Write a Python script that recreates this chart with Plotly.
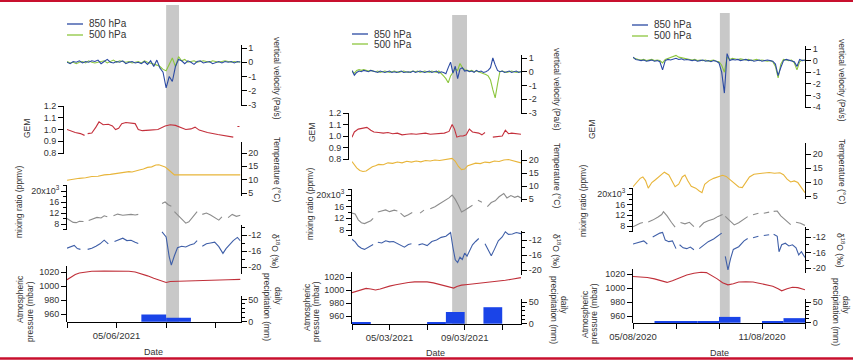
import pandas as pd
import plotly.graph_objects as go

W, H = 853, 360
FONT = "Arial, 'Liberation Sans', sans-serif"

# ======================= DATA =======================
# ---- Panel 1 : June 2021 ----
P1_START, P1_END = "2021-06-03", "2021-06-10"
P1_BAND = ["2021-06-07 00:00", "2021-06-07 12:30"]
p1_vel_hours = list(range(0, 169, 3))
p1_v850 = [0.0, -0.1, 0.05, 0.0, 0.1, -0.05, 0.05, 0.0, 0.1, 0.05,
           0.15, -0.1, 0.05, 0.2, 0.0, -0.05, 0.05, 0.0, 0.1, -0.1,
           0.0, 0.05, -0.05, 0.0, -0.1, 0.05, -0.15, 0.1, -0.3, 0.15,
           -0.4, -0.7, -1.8, -1.0, -1.35, -0.3, 0.2, 0.1, -0.1, 0.1,
           0.0, -0.15, 0.05, 0.1, -0.05, 0.0, 0.05, -0.1, 0.0, 0.05,
           -0.05, 0.05, 0.0, 0.05, -0.05, 0.05, 0.0]
p1_v500 = [0.05, -0.05, 0.0, -0.1, 0.0, 0.05, -0.05, 0.1, 0.0, -0.05,
           0.0, 0.05, 0.1, -0.05, 0.05, 0.15, 0.0, 0.1, 0.05, 0.0,
           0.05, -0.05, 0.0, 0.05, -0.05, 0.1, 0.0, -0.05, -0.1, -0.2,
           -0.3, -0.5, -0.6, -0.2, 0.3, -0.3, 0.4, 0.1, 0.2, 0.0,
           0.05, 0.1, 0.0, 0.05, 0.1, 0.05, 0.0, 0.1, 0.05, 0.0,
           0.05, 0.1, 0.05, 0.0, 0.05, 0.0, 0.05]
p1_gem_hours = [0, 3, 8, 13, 17, 18, 20, 24, 28, 31, 35, 40, 44, 47, 50, 53, 57, 62, 66, 69,
                73, 80, 88, 95, 100, 105, 110, 115, 120, 124, 128, 136, 146, 155, 161, 163, 165, 167]
p1_gem = [1.0, 0.99, 0.975, 0.965, 0.95, None, 0.965, 0.97, 1.02, 1.065,
          1.04, 1.045, 1.03, 1.0, 1.01, 1.05, 1.06, 1.055, 1.05, 1.0,
          0.99, 0.995, 1.0, 1.03, 1.04, 1.035, 1.02, 1.0, 1.005, 1.02,
          0.995, 0.975, 0.957, 0.945, 0.935, None, 1.025, 1.025]
p1_temp_hours = [0, 6, 12, 18, 24, 30, 36, 42, 48, 54, 60, 63, 66, 70, 74, 78, 82, 86, 89, 92,
                 95, 98, 101, 104, 110, 120, 135, 150, 168]
p1_temp = [9.8, 10.2, 10.5, 10.7, 11.2, 11.3, 11.8, 12.0, 12.4, 12.6,
           13.0, 12.9, 13.3, 13.6, 14.0, 14.6, 14.8, 15.5, 15.6, 15.3,
           14.8, 13.8, 12.6, 11.8, 11.8, 11.7, 11.8, 11.8, 11.8]
p1_mix_hours = [0, 3, 6, 9, 12, 16, 18, 21, 25, 29, 33, 36, 39, 42, 45, 49, 54, 58, 62, 66,
                69, 70, 92, 95, 98, 101, 102, 104, 108, 112, 115, 118, 122, 126, 128, 131, 135, 139, 143, 147,
                150, 152, 156, 160, 164, 168]
p1_mix = [10000, 9400, 8600, 8500, 9000, 8900, None, 9300, 10000, 10400,
          10200, 11000, 10600, None, 11000, 11600, 11200, 11400, 11500, 11300,
          11500, None, 15500, 16000, 15000, 14500, None, 12500, 11000, 9500,
          8300, 8800, 10500, 12500, None, 11500, 12000, 11300, 10500, 9400,
          10600, None, 10300, 11500, 10800, 11200]
p1_d18_hours = [0, 4, 7, 10, 13, 14, 20, 24, 28, 32, 36, 40, 42, 46, 50, 54, 58, 62, 66, 69,
                70, 92, 96, 99, 101, 104, 107, 111, 115, 119, 123, 126, 128, 131, 135, 139, 143, 147, 151, 154,
                157, 161, 165, 168]
p1_d18 = [-15.3, -14.8, -14.6, -15.4, -15.6, None, -15.6, -15.3, -14.8, -14.2,
          -13.3, -14.2, None, -13.6, -13.2, -12.8, -13.4, -13.3, -13.8, -14.1,
          None, -11.2, -12.5, -17.5, -19.5, -17.2, -15.2, -14.8, -15.0, -14.5,
          -14.2, -13.4, None, -14.8, -14.2, -14.0, -13.8, -14.9, -16.6, -15.4,
          -14.5, -13.4, -12.6, -13.5]
p1_pres_hours = [0, 4, 8, 12, 18, 24, 36, 48, 60, 66, 72, 78, 84, 90, 96, 100, 108, 120, 132, 144, 156, 168]
p1_pres = [1009, 1013, 1016.5, 1018.5, 1020, 1021, 1021.5, 1021.5, 1021, 1020, 1017.5,
           1014.5, 1011, 1008, 1005, 1006.5, 1007, 1007.5, 1008, 1008.5, 1009, 1009.5]
p1_prec_days = ["2021-06-06", "2021-06-07"]
p1_prec = [16, 9]

# ---- Panel 2 : March 2021 ----
P2_START, P2_END = "2021-03-03", "2021-03-12"
P2_BAND = ["2021-03-08 08:00", "2021-03-09 03:00"]
p2_vel_hours = list(range(0, 217, 3))
p2_v850 = [0.1, -0.25, -0.05, 0.05, 0.0, 0.1, 0.05, 0.0, 0.1, 0.05,
           0.0, -0.05, 0.05, 0.0, -0.05, 0.0, 0.05, -0.05, 0.0, -0.05,
           0.0, 0.05, -0.05, 0.0, 0.0, -0.05, 0.05, -0.05, 0.0, 0.05,
           0.0, -0.05, 0.0, 0.05, -0.05, 0.0, 0.05, -0.1, 0.0, -0.05,
           -0.15, 0.3, 0.7, -0.1, 0.4, -0.5, 0.2, 0.3, 0.05, 0.1,
           0.0, 0.05, -0.05, 0.1, 0.0, 0.05, -0.05, 0.0, 0.1, 0.3,
           1.0, 0.5, 0.1, 0.0, 0.05, -0.05, 0.0, 0.05, -0.05, 0.0,
           0.05, -0.05, 0.0]
p2_v500 = [0.05, -0.1, 0.1, 0.15, 0.1, 0.15, 0.1, 0.05, 0.1, 0.05,
           0.0, 0.05, -0.05, 0.0, 0.05, 0.0, -0.05, 0.0, 0.05, 0.0,
           -0.05, 0.0, 0.05, 0.0, -0.05, 0.0, 0.05, 0.0, 0.05, -0.05,
           0.0, 0.05, 0.0, -0.05, 0.05, 0.0, -0.05, 0.05, -0.1, -0.3,
           -0.5, -0.8, -0.3, 0.0, 0.2, 0.1, 0.6, 0.3, 0.15, 0.1,
           0.05, 0.1, 0.0, 0.05, 0.0, -0.05, -0.1, -0.2, -0.3, -0.6,
           -1.3, -1.9, -0.9, 0.0, 0.05, 0.0, -0.05, 0.0, 0.05, 0.0,
           -0.05, 0.0, 0.0]
p2_gem_hours = [0, 3, 8, 14, 19, 24, 28, 34, 40, 46, 52, 58, 64, 70, 76, 82, 88, 94, 100, 106,
                112, 118, 124, 128, 131, 134, 138, 142, 146, 150, 154, 158, 162, 166, 170, 171, 180, 186, 192, 196,
                200, 204, 208, 212, 216]
p2_gem = [0.99, 1.035, 1.06, 1.065, 1.075, 1.05, 1.035, 1.03, 1.025, 1.03,
          1.02, 1.025, 1.01, 1.015, 1.02, 1.015, 1.02, 1.025, 1.015, 1.02,
          1.02, 1.025, 1.04, 1.1, 1.06, 0.99, 1.0, 1.0, 1.01, 1.06,
          1.035, 1.03, 1.025, 1.01, 1.03, None, 0.99, 0.995, 1.0, 1.05,
          1.02, 1.025, 1.02, 1.02, 1.015]
p2_temp_hours = [0, 3, 6, 10, 14, 18, 22, 26, 30, 34, 40, 46, 52, 58, 64, 70, 76, 82, 88, 94,
                 100, 106, 112, 118, 124, 128, 132, 136, 140, 144, 148, 152, 158, 164, 170, 176, 182, 188, 194, 200,
                 206, 212, 216]
p2_temp = [19.4, 18.0, 17.0, 16.0, 15.6, 15.8, 16.6, 17.4, 17.8, 18.3,
           18.2, 18.9, 18.7, 19.2, 18.9, 19.5, 19.2, 19.6, 19.3, 19.8,
           19.6, 20.0, 19.8, 20.2, 20.4, 20.6, 19.5, 17.5, 16.3, 16.5,
           17.8, 18.3, 18.8, 18.6, 19.2, 19.0, 19.6, 19.4, 20.0, 20.2,
           19.8, 19.2, 18.9]
p2_mix_hours = [0, 4, 8, 12, 16, 20, 24, 27, 28, 33, 38, 43, 48, 54, 58, 60, 62, 67, 72, 77,
                79, 87, 92, 94, 100, 106, 112, 118, 124, 128, 132, 136, 140, 144, 150, 154, 156, 161, 166, 168,
                173, 178, 183, 188, 194, 198, 203, 208, 212, 216]
p2_mix = [13800, 13500, 11500, 10500, 10200, 10600, 11200, 12000, None, 14200,
          14600, 14900, 14300, 14800, 14500, None, 13800, 12600, 13200, 14000,
          None, 13800, 14800, None, 15300, 16000, 17000, 18000, 19000, 20000,
          18500, 16500, 14200, 14800, 15800, 16500, None, 18200, 17500, None,
          16000, 17400, 18000, 19400, 20500, 19000, 19800, 19200, 19600, 19000]
p2_d18_hours = [0, 4, 8, 12, 16, 20, 24, 27, 28, 33, 38, 43, 48, 53, 58, 62, 67, 72, 76, 78,
                85, 90, 96, 102, 108, 114, 120, 126, 129, 132, 135, 138, 141, 144, 147, 150, 154, 158, 162, 164,
                170, 175, 178, 182, 187, 192, 196, 200, 205, 210, 216]
p2_d18 = [-11.8, -12.5, -13.6, -14.2, -14.5, -14.0, -13.6, -13.2, None, -12.6,
          -12.8, -12.2, -12.5, -12.4, -13.0, -13.3, -13.9, -13.2, -13.0, None,
          -13.3, -13.0, -13.5, -12.4, -12.0, -11.3, -11.0, -10.0, -14.0, -17.3,
          -18.0, -16.6, -17.2, -15.5, -16.3, -14.8, -13.3, -12.4, -11.6, None,
          -13.0, -15.0, -16.2, -14.5, -12.2, -11.2, -9.8, -10.5, -10.4, -10.0,
          -10.3]
p2_pres_hours = [0, 6, 12, 18, 24, 30, 36, 42, 48, 56, 64, 72, 80, 88, 96, 104, 112, 120, 126, 130,
                 134, 140, 148, 156, 164, 172, 180, 188, 196, 204, 210, 216]
p2_pres = [996, 998.5, 1001, 1002.5, 1001.5, 1000, 1001.5, 1004, 1006, 1008,
           1010, 1011.5, 1012.5, 1013, 1012.5, 1011, 1008.5, 1005.5, 1003.5, 1003,
           1005.5, 1007.5, 1008.5, 1009.5, 1011, 1011.5, 1012, 1013, 1015, 1016.5,
           1017.5, 1019]
p2_prec_days = ["2021-03-03", "2021-03-07", "2021-03-08", "2021-03-10"]
p2_prec = [2, 2, 27, 38]

# ---- Panel 3 : August 2020 ----
P3_START, P3_END = "2020-08-05", "2020-08-13"
P3_BAND = ["2020-08-09 01:00", "2020-08-09 12:00"]
p3_vel_hours = list(range(0, 193, 3))
p3_v850 = [0.3, 0.1, 0.05, 0.0, 0.05, -0.05, 0.0, 0.05, -0.05, 0.0,
           -0.1, -0.8, 0.0, 0.1, 0.05, 0.15, 0.2, 0.1, 0.15, 0.05,
           0.1, 0.05, 0.0, 0.05, -0.05, 0.0, 0.05, -0.05, 0.0, -0.1,
           0.0, -0.05, -0.2, -1.0, -2.8, 0.6, 0.0, 0.1, 0.05, 0.1,
           0.0, 0.05, 0.1, 0.0, 0.05, -0.05, 0.0, 0.05, -0.05, 0.0,
           0.05, 0.0, -0.05, -0.3, -1.3, -0.6, 0.0, 0.1, 0.05, 0.0,
           -0.1, -0.5, 0.1, 0.0, 0.05]
p3_v500 = [0.25, 0.15, 0.1, 0.05, 0.1, 0.0, 0.05, 0.1, 0.0, 0.05,
           0.0, -0.2, 0.1, 0.2, 0.3, 0.35, 0.45, 0.3, 0.25, 0.2,
           0.15, 0.1, 0.05, 0.1, 0.0, 0.05, 0.0, 0.05, -0.05, 0.0,
           0.05, -0.05, -0.1, -0.4, -1.0, 0.3, 0.1, 0.2, 0.15, 0.1,
           0.15, 0.1, 0.05, 0.1, 0.0, 0.05, 0.1, 0.0, 0.05, 0.0,
           -0.05, 0.0, -0.1, -0.5, -1.5, -0.3, 0.1, 0.05, 0.0, 0.05,
           -0.2, -0.8, -0.1, 0.05, 0.0]
p3_gem_hours = []
p3_gem = []
p3_temp_hours = [0, 3, 8, 11, 14, 17, 21, 25, 30, 35, 40, 44, 47, 51, 55, 58, 61, 65, 70, 74,
                 77, 80, 85, 90, 96, 100, 104, 108, 113, 118, 122, 126, 130, 135, 140, 146, 152, 158, 164, 168,
                 172, 176, 180, 184, 188, 192]
p3_temp = [8.3, 9.5, 11.3, 11.8, 10.5, 7.8, 9.8, 10.8, 12.3, 13.5,
           12.5, 10.0, 8.3, 9.2, 11.8, 12.5, 10.5, 8.5, 7.8, 6.8,
           6.2, 9.2, 10.5, 11.3, 12.0, 12.4, 12.0, 11.0, 9.6, 8.2,
           8.0, 10.0, 11.8, 12.8, 13.0, 13.2, 13.4, 13.1, 13.3, 12.6,
           11.0, 10.0, 10.4, 9.8, 8.2, 6.2]
p3_mix_hours = [0, 4, 8, 11, 12, 17, 22, 28, 32, 34, 38, 43, 47, 48, 53, 58, 63, 68, 69, 74,
                79, 84, 90, 95, 100, 101, 103, 108, 113, 118, 124, 128, 130, 134, 140, 142, 146, 152, 154, 157,
                161, 165, 170, 176, 178, 182, 187, 192]
p3_mix = [7700, 8500, 9000, 9300, None, 9500, 10200, 11400, 12300, 13400,
          11800, 9300, 7600, None, 9300, 8800, 9400, 7800, None, 7500,
          9200, 10000, 10600, 11600, 12300, None, 11600, 10000, 8400, 9200,
          10600, 11500, None, 12200, 12800, None, 12800, 13200, None, 13500,
          13600, 11800, 10200, 8500, None, 9400, 9000, 8200]
p3_d18_hours = [0, 4, 8, 12, 16, 17, 22, 26, 30, 33, 36, 40, 44, 48, 49, 52, 56, 60, 64, 68,
                69, 74, 78, 84, 90, 96, 99, 100, 103, 106, 109, 112, 118, 124, 128, 130, 134, 140, 142, 146,
                152, 154, 157, 161, 163, 166, 170, 174, 178, 182, 185, 188, 192]
p3_d18 = [-13.8, -13.5, -13.4, -13.0, -13.8, None, -12.0, -11.4, -11.0, -10.8,
          -12.8, -13.2, -13.0, -15.0, None, -14.0, -14.8, -15.0, -14.6, -15.3,
          None, -15.0, -14.2, -13.2, -12.5, -11.5, -11.0, None, -17.0, -20.5,
          -17.5, -15.2, -14.5, -13.0, -12.4, None, -12.2, -11.8, None, -11.6,
          -11.4, None, -11.3, -11.8, -15.8, -14.0, -13.6, -14.3, -14.0, -14.8,
          -16.6, -15.8, -17.3]
p3_pres_hours = [0, 8, 16, 24, 32, 38, 44, 52, 60, 68, 76, 82, 88, 94, 100, 106, 112, 118, 126, 134,
                 142, 150, 156, 162, 166, 172, 178, 184, 188, 192]
p3_pres = [1016.5, 1016, 1015, 1013, 1010, 1008, 1010.5, 1014.5, 1018.5, 1021,
           1022.5, 1022, 1018, 1013, 1007.5, 1004.5, 1006, 1008.5, 1009, 1008.5,
           1006.5, 1004.5, 1002.5, 999, 996, 999, 1001, 1000.5, 999.5, 997.5]
p3_prec_days = ["2020-08-06", "2020-08-07", "2020-08-08", "2020-08-09", "2020-08-11", "2020-08-12"]
p3_prec = [2, 2, 4, 14, 3, 11]

# ---- tick labels ----
vel_ticks = [1, 0, -1, -2, -3]
vel_ticks_p3 = [1, 0, -1, -2, -3, -4]
gem_ticks = [1.2, 1.1, 1.0, 0.9, 0.8]
temp_ticks = [20, 15, 10, 5]
mix_ticks = [20000, 16000, 12000, 8000]
mix_ticktext = ["20x10<sup>3</sup>", "16", "12", "8"]
mix_minor = [22000, 18000, 14000, 10000, 6000]
d18_ticks = [-12, -16, -20]
d18_minor = [-10, -14, -18, -22]
pres_ticks = [1020, 1000, 980, 960]
prec_ticks = [50, 0]
prec_minor = [10, 20, 30, 40]

p1_date_ticks = ["2021-06-03", "2021-06-05", "2021-06-07", "2021-06-09"]
p1_date_text = ["", "05/06/2021", "", ""]
p2_date_ticks = ["2021-03-03", "2021-03-05", "2021-03-07", "2021-03-09", "2021-03-11"]
p2_date_text = ["", "05/03/2021", "", "09/03/2021", ""]
p3_date_ticks = ["2020-08-05", "2020-08-07", "2020-08-09", "2020-08-11", "2020-08-13"]
p3_date_text = ["05/08/2020", "", "", "11/08/2020", ""]

# ======================= STYLE / GEOMETRY =======================
C850, C500 = "#2b4aa3", "#8dc63f"
CGEM, CTEMP, CMIX, CD18, CPRES, CPREC = "#c4303c", "#e8b53a", "#8c8c8c", "#3f5fa8", "#c0303a", "#1a44e8"
CBAND = "#c8c8c8"
TXT = "#333"

ORDER = ["vel", "gem", "temp", "mix", "d18", "pres", "prec"]
SIDE = dict(vel="right", gem="left", temp="right", mix="left", d18="right", pres="left", prec="right")

panels = [
    dict(start=P1_START, end=P1_END, band=P1_BAND, xdom=(67, 240.5), gem_x=63, band_y=(5, 322),
         cal=dict(vel=((1, 48), (-3, 105)), gem=((1.2, 106), (0.8, 153)), temp=((20, 153), (5, 193)),
                  mix=((20000, 191), (8000, 224)), d18=((-12, 235), (-20, 267)),
                  pres=((1020, 272), (960, 314)), prec=((50, 299.5), (0, 321.7))),
         ext=dict(vel=(45, 105.5), gem=(105.5, 153.5), temp=(142, 196), mix=(185, 230),
                  d18=(225, 273.5), pres=(266, 322), prec=(296, 322)),
         vel_ticks=vel_ticks, dt=(p1_date_ticks, p1_date_text),
         leg=(67, 24, 35), date=(153, 352),
         titles=[("GEM", 27, 128, -90), ("mixing ratio (ppmv)", 19, 202, -90),
                 ("Atmospheric", 20, 299, -90), ("pressure (mbar)", 30, 312, -90),
                 ("vertical velocity (Pa/s)", 277, 78, 90), ("Temperature (°C)", 277, 169, 90),
                 ("δ<sup>18</sup>O (‰)", 276, 251, 90), ("precipitation (mm)", 267, 307, 90),
                 ("daily", 278, 296, 90)],
         series=dict(v=(p1_vel_hours, p1_v850, p1_v500), gem=(p1_gem_hours, p1_gem),
                     temp=(p1_temp_hours, p1_temp), mix=(p1_mix_hours, p1_mix),
                     d18=(p1_d18_hours, p1_d18), pres=(p1_pres_hours, p1_pres),
                     prec=(p1_prec_days, p1_prec))),
    dict(start=P2_START, end=P2_END, band=P2_BAND, xdom=(352, 521), gem_x=348, band_y=(15, 324),
         cal=dict(vel=((1, 58), (-3, 113)), gem=((1.2, 113), (0.8, 159)), temp=((20, 160), (5, 199)),
                  mix=((20000, 195), (8000, 230)), d18=((-12, 240), (-20, 270)),
                  pres=((1020, 277), (960, 316)), prec=((50, 302), (0, 323.7))),
         ext=dict(vel=(55, 113.5), gem=(112.5, 159.5), temp=(150, 202), mix=(188.5, 236),
                  d18=(230.5, 275), pres=(272, 324), prec=(299, 324)),
         vel_ticks=vel_ticks, dt=(p2_date_ticks, p2_date_text),
         leg=(352, 34, 44), date=(435, 353),
         titles=[("GEM", 312, 133, -90), ("mixing ratio (ppmv)", 310, 204, -90),
                 ("Atmospheric", 307, 307, -90), ("pressure (mbar)", 316, 312, -90),
                 ("vertical velocity (Pa/s)", 557, 89, 90), ("Temperature (°C)", 557, 175, 90),
                 ("δ<sup>18</sup>O (‰)", 557, 251, 90), ("precipitation (mm)", 554, 310, 90),
                 ("daily", 564, 305, 90)],
         series=dict(v=(p2_vel_hours, p2_v850, p2_v500), gem=(p2_gem_hours, p2_gem),
                     temp=(p2_temp_hours, p2_temp), mix=(p2_mix_hours, p2_mix),
                     d18=(p2_d18_hours, p2_d18), pres=(p2_pres_hours, p2_pres),
                     prec=(p2_prec_days, p2_prec))),
    dict(start=P3_START, end=P3_END, band=P3_BAND, xdom=(633, 805), gem_x=628, band_y=(13, 323),
         cal=dict(vel=((1, 49), (-4, 107)), gem=((1.2, 108), (0.8, 154)), temp=((20, 154), (5, 196)),
                  mix=((20000, 194), (8000, 226)), d18=((-12, 237), (-20, 268)),
                  pres=((1020, 274), (960, 316)), prec=((50, 302), (0, 322.7))),
         ext=dict(vel=(45.5, 107.5), gem=(107.5, 154.5), temp=(143, 199), mix=(188, 232),
                  d18=(227, 273), pres=(269, 323), prec=(299, 323)),
         vel_ticks=vel_ticks_p3, dt=(p3_date_ticks, p3_date_text),
         leg=(632, 25, 36), date=(719, 353),
         titles=[("GEM", 592, 130, -90), ("mixing ratio (ppmv)", 583, 201, -90),
                 ("Atmospheric", 585, 314, -90), ("pressure (mbar)", 594, 314, -90),
                 ("vertical velocity (Pa/s)", 842, 80, 90), ("Temperature (°C)", 842, 171, 90),
                 ("δ<sup>18</sup>O (‰)", 841, 250, 90), ("precipitation (mm)", 836, 312, 90),
                 ("daily", 846, 305, 90)],
         series=dict(v=(p3_vel_hours, p3_v850, p3_v500), gem=(p3_gem_hours, p3_gem),
                     temp=(p3_temp_hours, p3_temp), mix=(p3_mix_hours, p3_mix),
                     d18=(p3_d18_hours, p3_d18), pres=(p3_pres_hours, p3_pres),
                     prec=(p3_prec_days, p3_prec))),
]


def px(x):
    return x / W


def py(y):
    return 1 - y / H


def times(start, hours):
    return list(pd.Timestamp(start) + pd.to_timedelta(hours, unit="h"))


def yname(n):
    return "yaxis" if n == 1 else f"yaxis{n}"


def yref(n):
    return "y" if n == 1 else f"y{n}"


fig = go.Figure()
layout = dict(width=W, height=H, margin=dict(l=0, r=0, t=0, b=0, pad=0, autoexpand=False),
              paper_bgcolor="white", plot_bgcolor="rgba(0,0,0,0)",
              showlegend=False, hovermode=False,
              font=dict(family=FONT, size=9, color=TXT))
shapes, annots = [], []

TICKFONT = dict(family=FONT, size=9, color=TXT)

for k, P in enumerate(panels):
    xn = "xaxis" if k == 0 else f"xaxis{k + 1}"
    xr = "x" if k == 0 else f"x{k + 1}"
    ids = {name: 7 * k + j + 1 for j, name in enumerate(ORDER)}

    ticks = dict(vel=(P["vel_ticks"], [str(v) for v in P["vel_ticks"]], None),
                 gem=(gem_ticks, [f"{v:.1f}" for v in gem_ticks], None),
                 temp=(temp_ticks, [str(v) for v in temp_ticks], None),
                 mix=(mix_ticks, mix_ticktext, mix_minor),
                 d18=(d18_ticks, [str(v) for v in d18_ticks], d18_minor),
                 pres=(pres_ticks, [str(v) for v in pres_ticks], None),
                 prec=(prec_ticks, [str(v) for v in prec_ticks], prec_minor))

    for name in ORDER:
        (v1, p1), (v2, p2) = P["cal"][name]
        top, bot = P["ext"][name]
        slope = (v2 - v1) / (p2 - p1)
        lo = v1 + (bot - p1) * slope
        hi = v1 + (top - p1) * slope
        tv, tt, mn = ticks[name]
        ax = dict(domain=[py(bot), py(top)], range=[lo, hi], side=SIDE[name],
                  anchor=xr, showline=True, linecolor="black", linewidth=1,
                  ticks="outside", ticklen=5, tickwidth=1, tickcolor="black",
                  tickmode="array", tickvals=tv, ticktext=tt, tickfont=TICKFONT,
                  showgrid=False, zeroline=False, fixedrange=True, automargin=False)
        if name == "gem":
            ax["anchor"] = "free"
            ax["position"] = px(P["gem_x"])
        if mn:
            ax["minor"] = dict(tickmode="array", tickvals=mn, ticks="outside", ticklen=3,
                               tickwidth=1, tickcolor="black", showgrid=False)
        layout[yname(ids[name])] = ax

    layout[xn] = dict(domain=[px(P["xdom"][0]), px(P["xdom"][1])], type="date",
                      range=[P["start"], P["end"]], anchor=yref(ids["prec"]),
                      showline=True, linecolor="black", linewidth=1,
                      ticks="outside", ticklen=5, tickcolor="black",
                      tickmode="array", tickvals=P["dt"][0], ticktext=P["dt"][1],
                      tickfont=dict(family=FONT, size=9.5, color=TXT),
                      showgrid=False, zeroline=False, fixedrange=True, automargin=False)

    S = P["series"]
    vh, v850, v500 = S["v"]
    tv = times(P["start"], vh)
    fig.add_trace(go.Scatter(x=tv, y=v500, mode="lines", line=dict(color=C500, width=1.1),
                             xaxis=xr, yaxis=yref(ids["vel"])))
    fig.add_trace(go.Scatter(x=tv, y=v850, mode="lines", line=dict(color=C850, width=1.1),
                             xaxis=xr, yaxis=yref(ids["vel"])))
    for key, col in (("gem", CGEM), ("temp", CTEMP), ("mix", CMIX), ("d18", CD18), ("pres", CPRES)):
        hrs, vals = S[key]
        if len(hrs):
            fig.add_trace(go.Scatter(x=times(P["start"], hrs), y=vals, mode="lines",
                                     line=dict(color=col, width=1.1),
                                     xaxis=xr, yaxis=yref(ids[key])))
    days, rain = S["prec"]
    fig.add_trace(go.Bar(x=list(pd.to_datetime(days) + pd.Timedelta(hours=12)), y=rain,
                         width=86400000, marker=dict(color=CPREC, line=dict(width=0)),
                         xaxis=xr, yaxis=yref(ids["prec"])))

    # event band
    shapes.append(dict(type="rect", xref=xr, yref="paper", x0=P["band"][0], x1=P["band"][1],
                       y0=py(P["band_y"][1]), y1=py(P["band_y"][0]),
                       fillcolor=CBAND, line=dict(width=0), layer="below"))
    # legend
    lx, ly1, ly2 = P["leg"]
    for yy, col, txt in ((ly1, C850, "850 hPa"), (ly2, C500, "500 hPa")):
        shapes.append(dict(type="line", xref="paper", yref="paper", x0=px(lx), x1=px(lx + 16),
                           y0=py(yy), y1=py(yy), line=dict(color=col, width=1.3)))
        annots.append(dict(text=txt, x=px(lx + 20), y=py(yy), xref="paper", yref="paper",
                           xanchor="left", yanchor="middle", showarrow=False,
                           font=dict(family=FONT, size=10, color=TXT)))
    # axis titles
    for txt, tx, ty, ang in P["titles"]:
        annots.append(dict(text=txt, x=px(tx), y=py(ty), xref="paper", yref="paper",
                           xanchor="center", yanchor="middle", showarrow=False, textangle=ang,
                           font=dict(family=FONT, size=8.5, color=TXT)))
    annots.append(dict(text="Date", x=px(P["date"][0]), y=py(P["date"][1]), xref="paper", yref="paper",
                       xanchor="center", yanchor="middle", showarrow=False,
                       font=dict(family=FONT, size=9, color=TXT)))

# red frame lines top and bottom
shapes.append(dict(type="line", xref="paper", yref="paper", x0=0, x1=1, y0=py(1), y1=py(1),
                   line=dict(color="#c8102e", width=2)))
shapes.append(dict(type="line", xref="paper", yref="paper", x0=0, x1=1, y0=py(358.5), y1=py(358.5),
                   line=dict(color="#c8102e", width=2.5)))

layout["shapes"] = shapes
layout["annotations"] = annots
fig.update_layout(**layout)
fig.write_html("out.html", config=dict(displayModeBar=False))
